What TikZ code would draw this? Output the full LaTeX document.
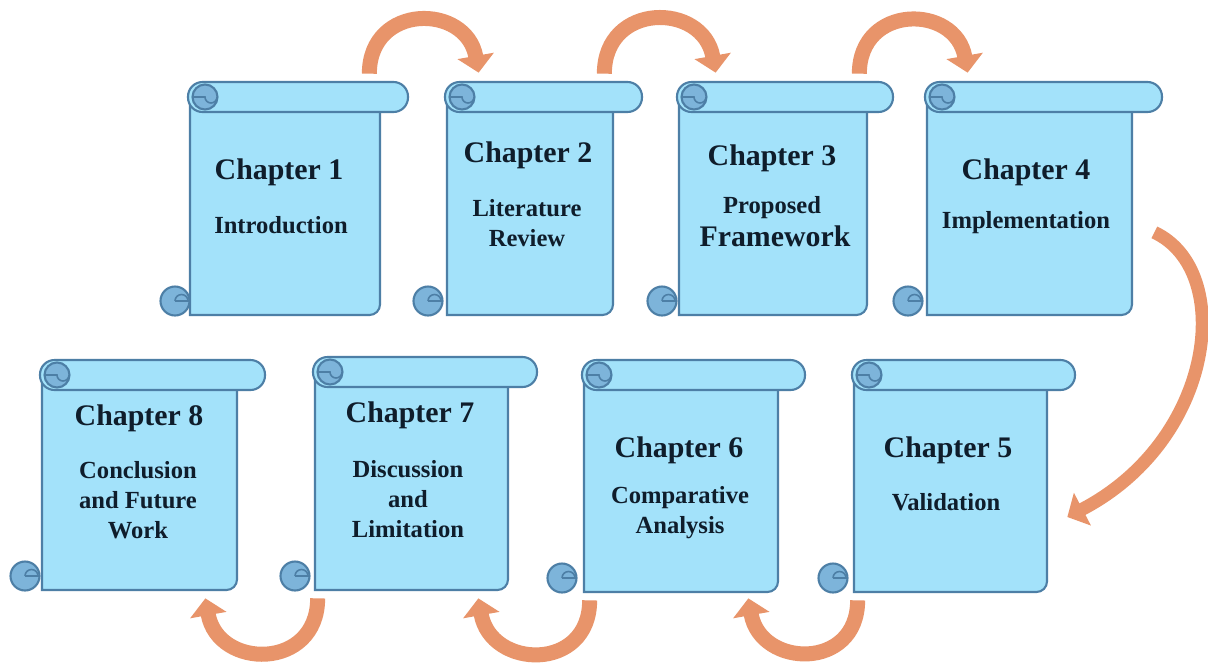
\documentclass[tikz,border=0pt]{standalone}
\usepackage{fontspec}
\setmainfont{Liberation Serif}
\usetikzlibrary{arrows.meta,fit,positioning}
\definecolor{scrollfill}{HTML}{A3E2FA}
\definecolor{scrollline}{HTML}{4D7FA6}
\definecolor{curlfill}{HTML}{7DB4DA}
\definecolor{flowc}{HTML}{E8946A}
\definecolor{inkc}{HTML}{0F1D2B}
\tikzset{
	scrollpart/.style={draw=scrollline, line width=1.2pt, fill=scrollfill},
	curlpart/.style={draw=scrollline, line width=1.2pt, fill=curlfill},
	curlline/.style={draw=scrollline, line width=0.9pt},
	chtitle/.style={font=\bfseries\fontsize{17}{20}\selectfont, text=inkc, inner sep=0pt},
	chsub/.style={font=\bfseries\fontsize{14}{17}\selectfont, text=inkc, align=center, inner sep=0pt},
	flow/.style={draw=flowc, line width=0.3cm, -{Triangle[width=0.72cm,length=0.34cm]}},
}
% name, roll left, roll top, roll right, body right, body bottom, curl x
\newcommand{\chscroll}[7]{%
	\filldraw[scrollpart] (#2+2,#3+20) -- (#2+2,#6) [rounded corners=6pt] -- (#5,#6) -- (#5,#3+20) [sharp corners] -- cycle;
	\filldraw[scrollpart, rounded corners=0.29cm] (#2,#3) rectangle (#4,#3+30);
	\filldraw[curlpart] (#2+17,#3+15) circle[radius=0.25cm];
	\draw[curlline] (#2+5,#3+15) -- (#2+17,#3+15) arc[start angle=180, end angle=360, radius=0.12cm];
	\filldraw[curlpart] (#7,#6-14) circle[radius=0.29cm];
	\draw[curlline] (#7,#6-14) -- (#7+14,#6-14) (#7,#6-14) arc[start angle=180, end angle=0, radius=0.13cm];
	\node[fit={(#2,#3) (#4,#6)}, inner sep=0pt] (#1) {};
}
\begin{document}
\begin{tikzpicture}[x=0.02cm, y=-0.02cm]
	\fill[white] (0,0) rectangle (1208,664);
	\useasboundingbox (0,0) rectangle (1208,664);

	\chscroll{ch1}{188}{82}{408}{380}{315}{175}
	\chscroll{ch2}{445}{82}{642}{613}{315}{428}
	\chscroll{ch3}{677}{82}{893}{867}{315}{662}
	\chscroll{ch4}{925}{82}{1162}{1132}{315}{908}
	\chscroll{ch8}{40}{360}{265}{237}{590}{25}
	\chscroll{ch7}{313}{357}{537}{508}{590}{295}
	\chscroll{ch6}{582}{360}{805}{778}{592}{562}
	\chscroll{ch5}{852}{360}{1075}{1047}{592}{833}

	\node[chtitle] (t1) at (279,172) {Chapter 1};
	\node[chsub] (s1) at (281,225) {Introduction};
	\node[chtitle] (t2) at (528,155) {Chapter 2};
	\node[chsub] (s2) at (527,223) {Literature\\Review};
	\node[chtitle] (t3) at (772,158) {Chapter 3};
	\node[chsub] (s3a) at (772,208) {Proposed};
	\node[chtitle] (s3b) at (775,236) {Framework};
	\node[chtitle] (t4) at (1026,172) {Chapter 4};
	\node[chsub] (s4) at (1026,223) {Implementation};
	\node[chtitle] (t8) at (139,418) {Chapter 8};
	\node[chsub] (s8) at (138,500) {Conclusion\\and Future\\Work};
	\node[chtitle] (t7) at (410,415) {Chapter 7};
	\node[chsub] (s7) at (408,499) {Discussion\\and\\Limitation};
	\node[chtitle] (t6) at (679,450) {Chapter 6};
	\node[chsub] (s6) at (680,513) {Comparative\\Analysis};
	\node[chtitle] (t5) at (948,450) {Chapter 5};
	\node[chsub] (s5) at (946,502) {Validation};

	\draw[flow] ([xshift=-0.78cm,yshift=0.16cm]ch1.north east) to[out=90,in=100,looseness=1.65] ([xshift=0.68cm,yshift=0.18cm]ch2.north west);
	\draw[flow] ([xshift=-0.76cm,yshift=0.16cm]ch2.north east) to[out=90,in=100,looseness=1.65] ([xshift=0.78cm,yshift=0.18cm]ch3.north west);
	\draw[flow] ([xshift=-0.68cm,yshift=0.16cm]ch3.north east) to[out=90,in=100,looseness=1.65] ([xshift=0.86cm,yshift=0.18cm]ch4.north west);
	\draw[flow, line width=0.26cm] ([xshift=-0.16cm,yshift=1.66cm]ch4.south east) .. controls +(81,38) and +(148,-77) .. ([xshift=-0.16cm,yshift=-0.82cm]ch5.east);
	\draw[flow] ([xshift=0.12cm,yshift=-0.16cm]ch5.south west) to[out=-90,in=-80,looseness=1.65] ([xshift=-1.14cm,yshift=-0.12cm]ch6.south east);
	\draw[flow] ([xshift=0.16cm,yshift=-0.16cm]ch6.south west) to[out=-90,in=-80,looseness=1.65] ([xshift=-1.18cm,yshift=-0.16cm]ch7.south east);
	\draw[flow] ([xshift=0.1cm,yshift=-0.16cm]ch7.south west) to[out=-90,in=-80,looseness=1.65] ([xshift=-1.2cm,yshift=-0.16cm]ch8.south east);
\end{tikzpicture}
\end{document}
